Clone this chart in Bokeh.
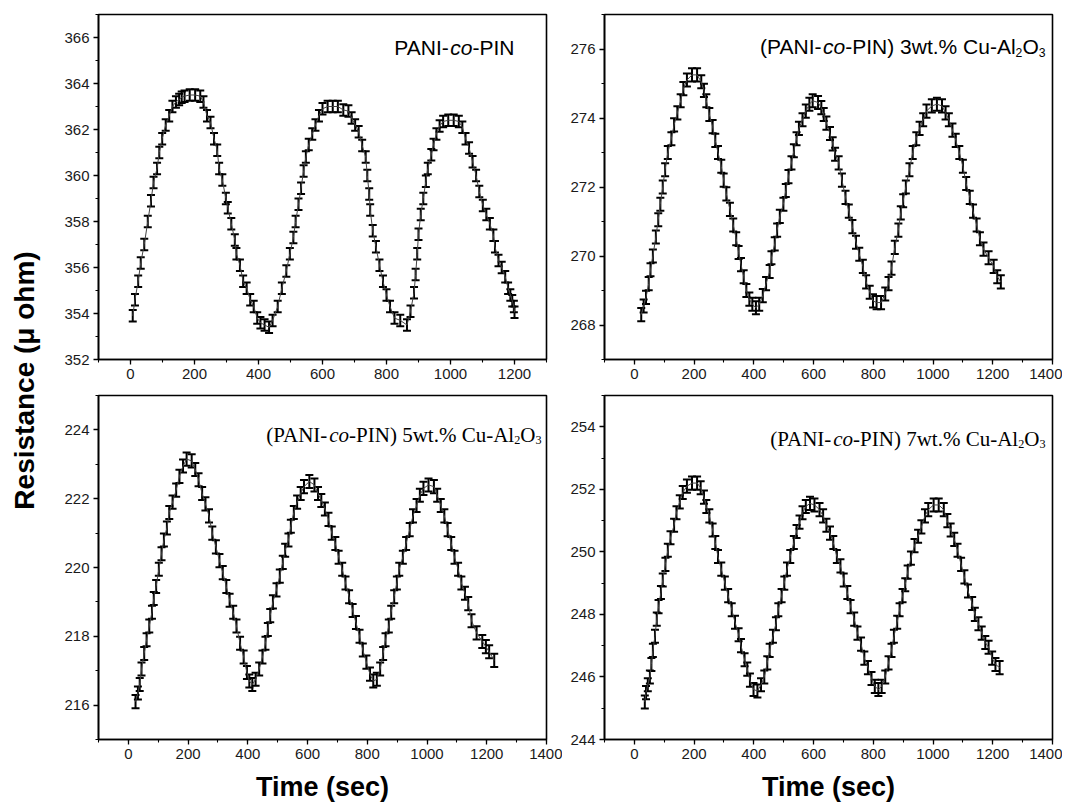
import numpy as np
from math import pi
from bokeh.plotting import figure
from bokeh.models import (ColumnDataSource, Whisker, TeeHead, Label, Range1d,
                          SingleIntervalTicker)
from bokeh.layouts import row, column
from bokeh.embed import file_html
from bokeh.resources import INLINE

# ---------------- data ----------------
y_label = "Resistance (\u03bc ohm)"
x_label = "Time (sec)"

t1 = [7, 14, 24, 32, 43, 54, 64, 72, 83, 90, 99, 110, 121, 131, 142, 152, 160, 169, 185, 202,
      218, 228, 239, 250, 261, 271, 277, 287, 298, 304, 315, 326, 331, 342, 352, 363, 374, 385, 396, 406,
      419, 433, 444, 460, 473, 487, 498, 509, 516, 525, 533, 541, 548, 557, 568, 578, 589, 600, 616, 632,
      648, 665, 681, 691, 702, 713, 724, 735, 740, 746, 749, 757, 767, 778, 789, 800, 811, 825, 843, 864,
      875, 886, 891, 896, 900, 907, 915, 923, 929, 940, 947, 956, 966, 977, 993, 1010, 1026, 1037, 1047, 1058,
      1069, 1080, 1090, 1101, 1112, 1123, 1134, 1139, 1150, 1160, 1171, 1180, 1187, 1193, 1198, 1200]
r1 = [353.9, 354.6, 355.4, 356.2, 357.0, 358.0, 358.9, 359.7, 360.3, 361.0, 361.6, 362.2, 362.6, 363.0, 363.2, 363.3, 363.4, 363.45, 363.5, 363.5,
      363.45, 363.2, 362.6, 362.3, 361.6, 361.1, 360.3, 359.8, 359.0, 358.6, 357.9, 357.2, 356.6, 356.1, 355.4, 355.1, 354.6, 354.3, 353.8, 353.6,
      353.5, 353.4, 353.7, 354.3, 355.1, 355.85, 356.6, 357.3, 358.0, 358.75, 359.45, 360.2, 360.8, 361.35, 361.8, 362.2, 362.6, 362.9, 363.0, 363.0,
      363.0, 362.85, 362.8, 362.5, 362.2, 361.9, 361.3, 360.8, 360.0, 359.2, 358.5, 357.6, 356.9, 356.1, 355.4, 354.8, 354.3, 353.8, 353.7, 353.5,
      354.1, 354.9, 355.7, 356.6, 357.45, 358.3, 359.0, 359.75, 360.3, 360.9, 361.35, 361.8, 362.15, 362.35, 362.4, 362.4, 362.35, 362.1, 361.6, 361.2,
      360.6, 360.0, 359.3, 358.7, 358.3, 357.9, 357.4, 356.9, 356.3, 356.0, 355.6, 355.1, 354.8, 354.55, 354.3, 354.05]
e1 = 0.25

t2 = [23, 31, 39, 48, 54, 62, 72, 80, 87, 95, 103, 112, 124, 133, 144, 155, 164, 176, 193, 210,
      224, 233, 241, 251, 262, 271, 280, 291, 299, 308, 320, 331, 341, 349, 357, 366, 375, 385, 395, 407,
      418, 430, 441, 453, 459, 470, 478, 487, 499, 507, 516, 526, 534, 543, 551, 563, 574, 586, 597, 615,
      626, 634, 643, 655, 664, 672, 684, 695, 707, 718, 730, 742, 753, 765, 776, 788, 799, 811, 826, 840,
      851, 861, 872, 884, 892, 900, 909, 921, 932, 944, 955, 967, 978, 996, 1013, 1030, 1042, 1053, 1065, 1076,
      1088, 1100, 1111, 1123, 1134, 1146, 1157, 1169, 1186, 1203, 1215, 1227]
r2 = [268.3, 268.55, 268.8, 269.2, 269.6, 270.0, 270.55, 271.05, 271.5, 272.0, 272.5, 273.0, 273.4, 273.8, 274.15, 274.5, 274.85, 275.1, 275.25, 275.25,
      275.05, 274.8, 274.5, 274.1, 273.75, 273.35, 273.0, 272.6, 272.2, 271.8, 271.35, 270.9, 270.5, 270.1, 269.75, 269.4, 269.0, 268.75, 268.6, 268.5,
      268.6, 268.85, 269.2, 269.55, 269.95, 270.35, 270.75, 271.15, 271.5, 271.9, 272.3, 272.7, 273.05, 273.4, 273.7, 273.95, 274.2, 274.4, 274.5, 274.45,
      274.3, 274.1, 273.85, 273.55, 273.25, 272.95, 272.7, 272.2, 271.7, 271.3, 270.85, 270.4, 270.05, 269.7, 269.25, 268.95, 268.7, 268.65, 268.65, 268.9,
      269.2, 269.65, 270.25, 270.75, 271.25, 271.6, 272.0, 272.5, 273.0, 273.4, 273.7, 273.95, 274.2, 274.35, 274.4, 274.35, 274.15, 273.95, 273.65, 273.35,
      273.0, 272.6, 272.1, 271.7, 271.3, 270.9, 270.5, 270.2, 269.95, 269.7, 269.4, 269.25]
e2 = 0.19

t3 = [24, 32, 38, 44, 53, 61, 70, 79, 85, 93, 102, 111, 119, 129, 137, 148, 160, 171, 183, 195,
      212, 224, 235, 247, 258, 270, 281, 293, 305, 316, 328, 339, 351, 362, 374, 386, 397, 405, 415, 426,
      438, 449, 459, 467, 475, 484, 496, 507, 517, 525, 536, 544, 554, 565, 577, 588, 606, 623, 635, 646,
      658, 670, 681, 693, 704, 716, 727, 739, 751, 762, 774, 785, 797, 809, 820, 832, 843, 853, 861, 872,
      880, 890, 899, 907, 919, 930, 942, 953, 965, 976, 988, 1005, 1023, 1034, 1046, 1058, 1069, 1081, 1092, 1104,
      1115, 1127, 1138, 1149, 1166, 1185, 1197, 1208, 1225]
r3 = [216.1, 216.35, 216.6, 217.05, 217.5, 217.9, 218.3, 218.7, 219.1, 219.45, 219.95, 220.4, 220.8, 221.15, 221.6, 221.9, 222.25, 222.65, 222.95, 223.15,
      223.1, 222.85, 222.55, 222.15, 221.85, 221.5, 221.0, 220.6, 220.2, 219.85, 219.45, 219.05, 218.7, 218.3, 217.8, 217.4, 216.95, 216.7, 216.6, 216.75,
      217.05, 217.4, 217.8, 218.2, 218.6, 219.0, 219.35, 219.75, 220.15, 220.5, 220.8, 221.2, 221.6, 221.9, 222.15, 222.35, 222.5, 222.4, 222.15, 221.95,
      221.7, 221.4, 221.0, 220.7, 220.3, 219.95, 219.55, 219.15, 218.75, 218.4, 218.0, 217.6, 217.25, 216.9, 216.7, 216.75, 217.05, 217.5, 217.9, 218.3,
      218.7, 219.15, 219.55, 219.95, 220.3, 220.7, 221.1, 221.5, 221.8, 222.1, 222.3, 222.4, 222.35, 222.1, 221.8, 221.5, 221.1, 220.7, 220.3, 219.95,
      219.55, 219.25, 218.95, 218.45, 218.1, 217.85, 217.7, 217.55, 217.3]
e3 = 0.19

t4 = [35, 39, 45, 52, 57, 62, 69, 75, 81, 89, 95, 104, 112, 121, 133, 141, 152, 162, 176, 193,
      210, 222, 233, 241, 251, 262, 271, 280, 291, 303, 314, 326, 337, 349, 357, 369, 378, 387, 399, 412,
      424, 435, 445, 453, 464, 474, 482, 493, 502, 511, 522, 534, 543, 553, 563, 574, 588, 603, 620, 632,
      643, 655, 666, 678, 690, 701, 713, 724, 736, 747, 759, 770, 782, 794, 805, 817, 828, 840, 851, 861,
      869, 880, 888, 898, 907, 915, 926, 938, 950, 961, 973, 984, 1002, 1019, 1036, 1048, 1059, 1071, 1082, 1094,
      1105, 1117, 1131, 1140, 1152, 1163, 1175, 1186, 1198, 1209, 1223]
r4 = [245.2, 245.5, 245.75, 246.0, 246.4, 246.85, 247.3, 247.85, 248.25, 248.7, 249.1, 249.6, 250.05, 250.45, 250.85, 251.25, 251.6, 251.9, 252.1, 252.2,
      252.2, 252.05, 251.75, 251.45, 251.15, 250.7, 250.3, 249.85, 249.45, 249.0, 248.6, 248.15, 247.75, 247.35, 247.0, 246.55, 246.25, 245.9, 245.6, 245.55,
      245.75, 246.0, 246.45, 246.85, 247.3, 247.7, 248.15, 248.6, 249.0, 249.45, 249.85, 250.3, 250.65, 250.95, 251.25, 251.45, 251.55, 251.5, 251.35, 251.15,
      250.85, 250.6, 250.3, 249.85, 249.55, 249.1, 248.7, 248.25, 247.85, 247.4, 247.05, 246.6, 246.3, 245.95, 245.7, 245.6, 245.7, 246.0, 246.45, 246.85,
      247.3, 247.75, 248.15, 248.6, 248.95, 249.35, 249.8, 250.2, 250.5, 250.8, 251.15, 251.35, 251.5, 251.5, 251.35, 251.0, 250.7, 250.4, 250.05, 249.6,
      249.2, 248.75, 248.35, 248.0, 247.7, 247.4, 247.1, 246.95, 246.6, 246.4, 246.3]
e4 = 0.21

# panel titles: runs of (text, style, relative size, sub-shift)
title1 = [("PANI-", "normal", 1.0, 0.0), ("co", "italic", 1.0, 0.0), ("-PIN", "normal", 1.0, 0.0)]
title2 = [("(PANI-", "normal", 1.0, 0.0), ("co", "italic", 1.0, 0.0), ("-PIN) 3wt.% Cu-Al", "normal", 1.0, 0.0),
          ("2", "normal", 0.58, 0.28), ("O", "normal", 1.0, 0.0), ("3", "normal", 0.58, 0.28)]
title3 = [("(PANI-", "normal", 1.0, 0.0), ("co", "italic", 1.0, 0.0), ("-PIN) 5wt.% Cu-Al", "normal", 1.0, 0.0),
          ("2", "normal", 0.58, 0.28), ("O", "normal", 1.0, 0.0), ("3", "normal", 0.58, 0.28)]
title4 = [("(PANI-", "normal", 1.0, 0.0), ("co", "italic", 1.0, 0.0), ("-PIN) 7wt.% Cu-Al", "normal", 1.0, 0.0),
          ("2", "normal", 0.58, 0.28), ("O", "normal", 1.0, 0.0), ("3", "normal", 0.58, 0.28)]

# ---------------- styling helpers ----------------
SANS = "Liberation Sans"
SERIF = "Liberation Serif"

_d_sans = {str(i): 556 for i in range(10)}
W_SANS = dict(_d_sans, **{'(': 333, ')': 333, '-': 333, '.': 278, ' ': 278, '%': 889, 'A': 667, 'C': 722,
                          'I': 278, 'N': 722, 'O': 778, 'P': 667, 'l': 222, 'c': 500, 'o': 556, 'u': 556,
                          'w': 722, 't': 278})
_d_serif = {str(i): 500 for i in range(10)}
W_SERIF = dict(_d_serif, **{'(': 333, ')': 333, '-': 333, '.': 250, ' ': 250, '%': 833, 'A': 722, 'C': 667,
                            'I': 333, 'N': 722, 'O': 722, 'P': 556, 'l': 278, 'c': 444, 'o': 500, 'u': 500,
                            'w': 722, 't': 278})


def tw(s, table, size):
    return sum(table.get(ch, 550) for ch in s) / 1000.0 * size


def add_title(p, runs, font, table, fs, frame_w, frame_h, right_pad, drop):
    total = sum(tw(txt, table, fs * rel) for txt, _, rel, _ in runs)
    x = frame_w - right_pad - total
    base = frame_h - drop
    for txt, style, rel, shift in runs:
        size = fs * rel
        p.add_layout(Label(x=x, y=base - shift * fs, x_units="screen", y_units="screen", text=txt,
                           text_font=font, text_font_style=style, text_font_size=f"{size:.1f}px",
                           text_color="black", text_align="left", text_baseline="alphabetic"))
        x += tw(txt, table, size)


def make_panel(t, r, err, xr, yr, width, height, bl, br, bt, bb, xlabel):
    p = figure(width=width, height=height, x_range=Range1d(*xr), y_range=Range1d(*yr),
               toolbar_location=None, output_backend="svg",
               min_border_left=bl, min_border_right=br, min_border_top=bt, min_border_bottom=bb)
    p.background_fill_color = "white"
    p.border_fill_color = "white"
    p.grid.visible = False
    p.outline_line_color = "black"
    p.outline_line_width = 1.6
    p.xaxis.ticker = SingleIntervalTicker(interval=200, num_minor_ticks=2)
    p.yaxis.ticker = SingleIntervalTicker(interval=2, num_minor_ticks=2)
    for ax in (p.xaxis, p.yaxis):
        ax.axis_line_width = 1.6
        ax.axis_line_color = "black"
        ax.major_tick_line_color = "black"
        ax.minor_tick_line_color = "black"
        ax.major_tick_line_width = 1.3
        ax.minor_tick_line_width = 1.1
        ax.major_tick_out = 5
        ax.major_tick_in = 0
        ax.minor_tick_out = 3
        ax.minor_tick_in = 0
        ax.major_label_text_font = SANS
        ax.major_label_text_font_size = "15px"
        ax.major_label_text_color = "#1a1a1a"
        ax.major_label_standoff = 4
    if xlabel:
        p.xaxis.axis_label = x_label
        p.xaxis.axis_label_text_font = SANS
        p.xaxis.axis_label_text_font_style = "bold"
        p.xaxis.axis_label_text_font_size = "27px"
        p.xaxis.axis_label_text_color = "black"
        p.xaxis.axis_label_standoff = 10

    tt = np.array(t, dtype=float)
    rr = np.array(r, dtype=float)
    src = ColumnDataSource(dict(t=tt, r=rr, up=rr + err, lo=rr - err))
    p.line("t", "r", source=src, line_color="#444444", line_width=1)
    wk = Whisker(source=src, base="t", upper="up", lower="lo", dimension="height",
                 line_color="black", line_width=2,
                 upper_head=TeeHead(size=8, line_color="black", line_width=2),
                 lower_head=TeeHead(size=8, line_color="black", line_width=2))
    p.add_layout(wk)
    return p


TOP_H, BOT_H = 385, 419
p1 = make_panel(t1, r1, e1, (-100, 1300), (352, 367), 514, TOP_H, 50, 16, 14, 26, False)
p2 = make_panel(t2, r2, e2, (-100, 1400), (267, 277), 500, TOP_H, 42, 10, 14, 26, False)
p3 = make_panel(t3, r3, e3, (-100, 1400), (215, 225), 514, BOT_H, 50, 16, 10, 62, True)
p4 = make_panel(t4, r4, e4, (-100, 1400), (244, 255), 500, BOT_H, 42, 10, 10, 62, True)

add_title(p1, title1, SANS, W_SANS, 21, 448, 345, 32, 33)
add_title(p2, title2, SANS, W_SANS, 21, 448, 345, 7, 32)
add_title(p3, title3, SERIF, W_SERIF, 21, 448, 347, 5, 42)
add_title(p4, title4, SERIF, W_SERIF, 21, 448, 347, 7, 46)

# left strip carrying the shared y-axis title
LAB_H = TOP_H + BOT_H
lab = figure(width=48, height=LAB_H, x_range=Range1d(0, 1), y_range=Range1d(0, 1),
             toolbar_location=None, output_backend="svg",
             min_border_left=0, min_border_right=0, min_border_top=0, min_border_bottom=0)
lab.axis.visible = False
lab.grid.visible = False
lab.outline_line_color = None
lab.add_layout(Label(x=24, y=LAB_H - 380, x_units="screen", y_units="screen", text=y_label,
                     angle=pi / 2, text_font=SANS, text_font_style="bold", text_font_size="28px",
                     text_color="black", text_align="center", text_baseline="middle"))

layout = row(lab, column(row(p1, p2), row(p3, p4)))

open("out.html", "w").write(file_html(layout, INLINE))
